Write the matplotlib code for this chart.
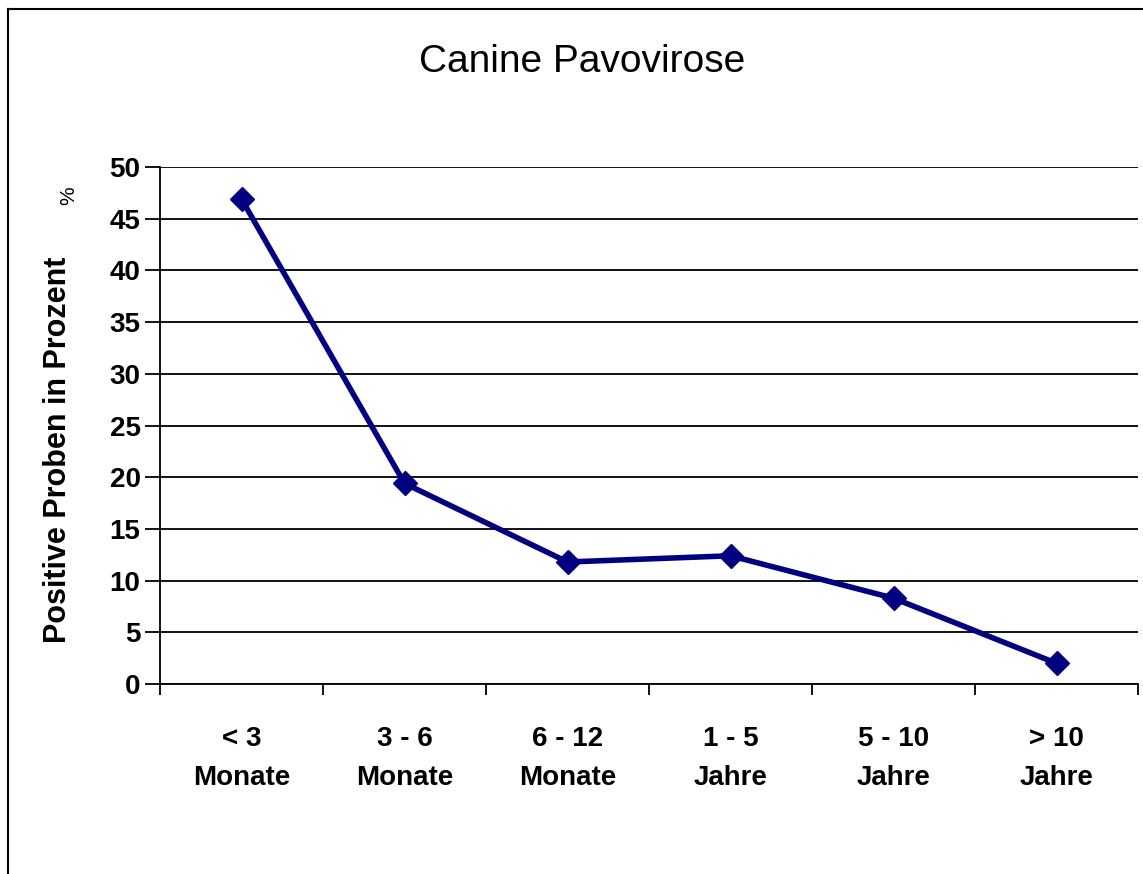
import matplotlib
matplotlib.use("Agg")
import matplotlib.pyplot as plt
from matplotlib.lines import Line2D

categories = ["< 3\nMonate", "3 - 6\nMonate", "6 - 12\nMonate", "1 - 5\nJahre", "5 - 10\nJahre", "> 10\nJahre"]
values = [46.9, 19.4, 11.8, 12.4, 8.3, 2.0]
yticks = [0, 5, 10, 15, 20, 25, 30, 35, 40, 45, 50]
title = "Canine Pavovirose"
ylabel = "Positive Proben in Prozent"

plt.rcParams['font.family'] = ['Liberation Sans', 'DejaVu Sans']

fig = plt.figure(figsize=(11.43, 8.74), dpi=100)
W, H = 1143, 874
ax = fig.add_axes([160 / W, 1 - 684 / H, (1138 - 160) / W, (684 - 167) / H])

n = len(categories)
xs = [i + 0.5 for i in range(n)]
ax.plot(xs, values, color="#000080", lw=4.0, marker="D", markersize=12,
        markerfacecolor="#000080", markeredgecolor="#000080", zorder=3, clip_on=False)

ax.set_xlim(0, n)
ax.set_ylim(0, 50)
ax.set_yticks(yticks)
ax.set_yticklabels([str(v) for v in yticks], fontsize=20, fontweight="bold")
ax.yaxis.grid(True, color="black", lw=1.3)
ax.set_axisbelow(True)

ax.set_xticks(range(n + 1))
ax.set_xticklabels([""] * (n + 1))
ax.set_xticks(xs, minor=True)
ax.set_xticklabels(categories, minor=True, fontsize=20, fontweight="bold", linespacing=1.65)
ax.tick_params(axis="x", which="major", length=8, width=1.3, direction="out")
ax.tick_params(axis="x", which="minor", length=0, pad=30)
ax.tick_params(axis="y", length=11, width=1.3, direction="out", pad=3)

for s in ["top", "right"]:
    ax.spines[s].set_visible(False)
for s in ["left", "bottom"]:
    ax.spines[s].set_linewidth(1.3)

fig.text(582 / W, 1 - 62 / H, title, ha="center", va="center", fontsize=28)
fig.text(58 / W, 1 - 450 / H, ylabel, ha="center", va="center", rotation=90,
         fontsize=22, fontweight="bold")
fig.text(69 / W, 1 - 196 / H, "%", ha="center", va="center", rotation=90, fontsize=15)

# outer chart frame
fig.add_artist(Line2D([8 / W, 8 / W], [0, 1 - 9 / H], color="black", lw=1.5))
fig.add_artist(Line2D([8 / W, 1], [1 - 9 / H, 1 - 9 / H], color="black", lw=1.5))

fig.savefig("out.png", dpi=100)
